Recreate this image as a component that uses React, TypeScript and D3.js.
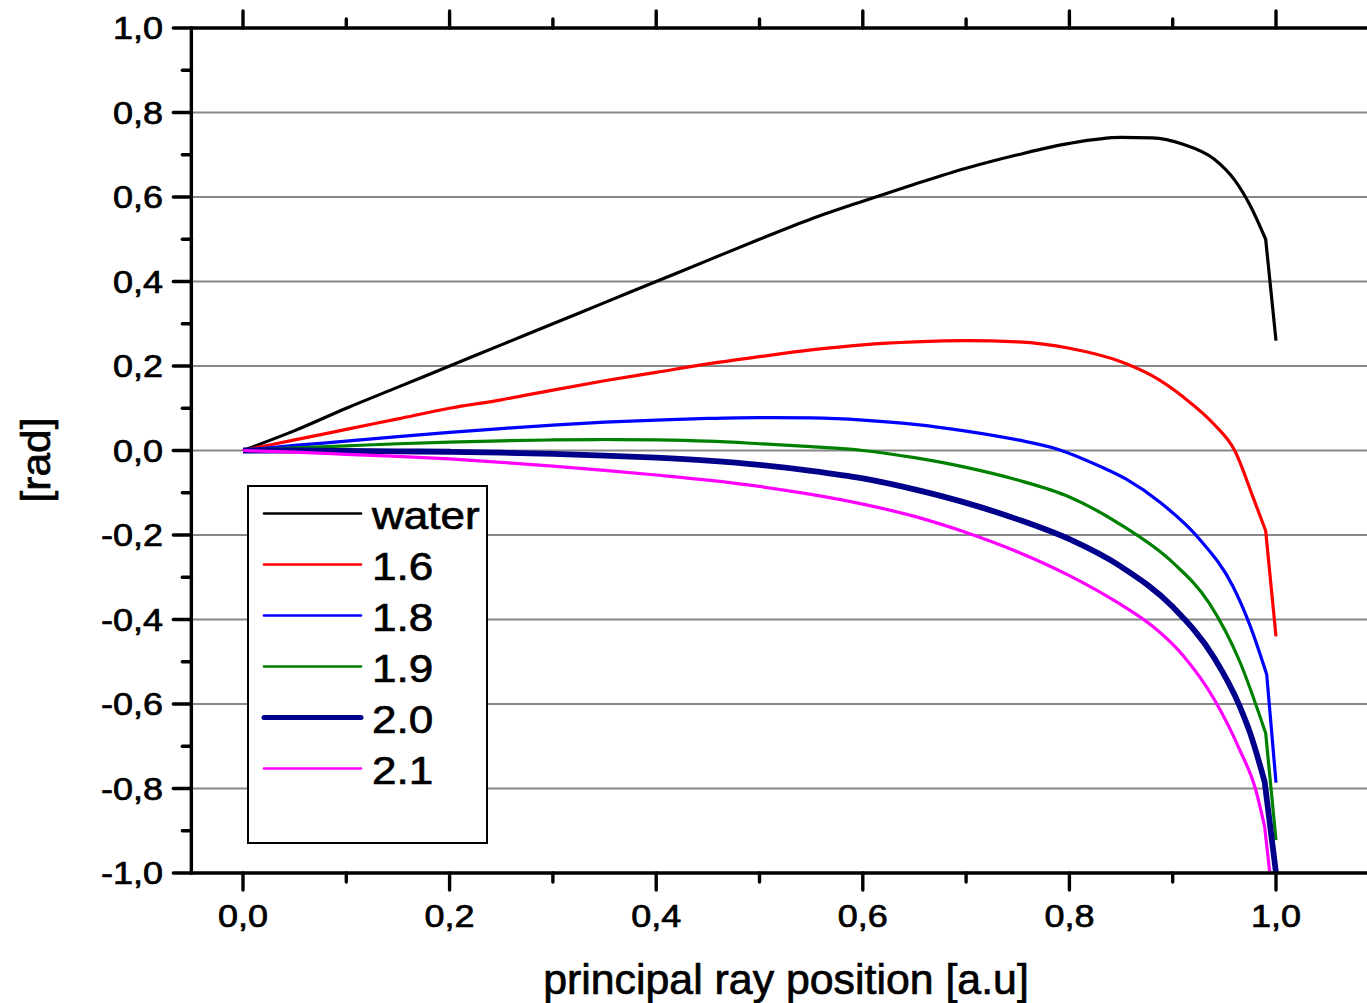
import {useEffect, useRef} from "react";
import * as d3 from "d3";

// x = principal ray position [a.u], y = angle [rad]
const waterX = [0, 0.05, 0.1, 0.15, 0.2, 0.25, 0.3, 0.35, 0.4, 0.45, 0.5, 0.55, 0.6, 0.65, 0.7, 0.75, 0.8, 0.85, 0.88, 0.91, 0.94, 0.96, 0.975, 0.99, 1.0];
const waterY = [0, 0.047, 0.1, 0.15, 0.2, 0.25, 0.3, 0.35, 0.4, 0.45, 0.5, 0.548, 0.59, 0.63, 0.668, 0.7, 0.727, 0.741, 0.74, 0.725, 0.69, 0.64, 0.58, 0.5, 0.26];

const n16X = [0, 0.05, 0.1, 0.15, 0.2, 0.25, 0.3, 0.35, 0.4, 0.45, 0.5, 0.55, 0.6, 0.65, 0.7, 0.75, 0.8, 0.85, 0.88, 0.91, 0.94, 0.96, 0.978, 0.99, 1.0];
const n16Y = [0, 0.025, 0.05, 0.075, 0.1, 0.12, 0.143, 0.165, 0.185, 0.205, 0.222, 0.238, 0.25, 0.257, 0.26, 0.257, 0.242, 0.21, 0.177, 0.127, 0.062, 0.0, -0.112, -0.19, -0.44];

const n18X = [0, 0.05, 0.1, 0.15, 0.2, 0.25, 0.3, 0.35, 0.4, 0.45, 0.5, 0.55, 0.6, 0.65, 0.7, 0.75, 0.79, 0.83, 0.855, 0.888, 0.926, 0.958, 0.975, 0.991, 1.0];
const n18Y = [0, 0.012, 0.022, 0.033, 0.043, 0.052, 0.06, 0.067, 0.072, 0.076, 0.078, 0.077, 0.072, 0.062, 0.046, 0.025, 0.002, -0.038, -0.068, -0.123, -0.21, -0.32, -0.415, -0.53, -0.786];

const n19X = [0, 0.05, 0.1, 0.15, 0.2, 0.25, 0.3, 0.35, 0.4, 0.45, 0.5, 0.55, 0.6, 0.65, 0.7, 0.75, 0.8, 0.85, 0.9, 0.935, 0.965, 0.99, 1.0];
const n19Y = [0, 0.006, 0.011, 0.016, 0.02, 0.023, 0.025, 0.026, 0.025, 0.022, 0.016, 0.009, 0.0, -0.017, -0.04, -0.07, -0.11, -0.176, -0.265, -0.36, -0.5, -0.669, -0.922];

const n20X = [0, 0.05, 0.1, 0.15, 0.2, 0.25, 0.3, 0.35, 0.4, 0.45, 0.5, 0.55, 0.6, 0.65, 0.7, 0.75, 0.8, 0.85, 0.9, 0.94, 0.965, 0.975, 0.989, 1.0];
const n20Y = [0, 0.0, -0.001, -0.002, -0.003, -0.005, -0.008, -0.012, -0.017, -0.024, -0.034, -0.048, -0.066, -0.092, -0.124, -0.163, -0.21, -0.275, -0.37, -0.49, -0.606, -0.669, -0.784, -1.0];

const n21X = [0, 0.05, 0.1, 0.15, 0.2, 0.25, 0.3, 0.35, 0.4, 0.45, 0.5, 0.55, 0.6, 0.65, 0.7, 0.75, 0.8, 0.85, 0.88, 0.91, 0.94, 0.965, 0.98, 0.989, 0.994];
const n21Y = [0, -0.004, -0.009, -0.014, -0.02, -0.028, -0.037, -0.047, -0.058, -0.07, -0.085, -0.104, -0.127, -0.156, -0.194, -0.24, -0.296, -0.365, -0.415, -0.485, -0.588, -0.709, -0.8, -0.89, -1.0];

const seriesNames = ["water", "1.6", "1.8", "1.9", "2.0", "2.1"];
const seriesColors = ["#000000", "#ff0000", "#0000ff", "#008000", "#00008b", "#ff00ff"];
const seriesWidths = [3.2, 3.2, 3.2, 3.2, 5.8, 3.2];
const seriesXs = [waterX, n16X, n18X, n19X, n20X, n21X];
const seriesYs = [waterY, n16Y, n18Y, n19Y, n20Y, n21Y];

const xMajor = [0, 0.2, 0.4, 0.6, 0.8, 1.0];
const xMinor = [0.1, 0.3, 0.5, 0.7, 0.9];
const yMajor = [-1, -0.8, -0.6, -0.4, -0.2, 0, 0.2, 0.4, 0.6, 0.8, 1.0];
const yMinor = [-0.9, -0.7, -0.5, -0.3, -0.1, 0.1, 0.3, 0.5, 0.7, 0.9];

const FONT = "'Liberation Sans', Arial, sans-serif";

export default function App() {
    const ref = useRef(null);

    useEffect(() => {
        const el = ref.current;
        if(!el) return;
        const svg = d3.select(el);
        svg.selectAll("*").remove();

        const width = 1367;
        const height = 1003;

        const x = d3.scaleLinear().domain([0, 1]).range([243, 1276]);
        const y = d3.scaleLinear().domain([-1, 1]).range([873, 28]);
        const left = x(-0.05);
        const top = y(1);
        const bottom = y(-1);

        svg.append("rect").attr("width", width).attr("height", height).attr("fill", "#fff");

        // gridlines
        svg.append("g")
            .selectAll("line")
            .data(yMajor.filter((v) => Math.abs(v) < 0.99))
            .join("line")
            .attr("x1", left)
            .attr("x2", width)
            .attr("y1", (d) => y(d))
            .attr("y2", (d) => y(d))
            .attr("stroke", "#888888")
            .attr("stroke-width", 2.2);

        // curves: smooth body, sharp last segment (as in the original)
        const smooth = d3.line().x((d) => x(d[0])).y((d) => y(d[1])).curve(d3.curveMonotoneX);
        seriesNames.forEach((name, i) => {
            const pts = seriesXs[i].map((v, j) => [v, seriesYs[i][j]]);
            const last = pts[pts.length - 1];
            const d = smooth(pts.slice(0, -1)) + `L${x(last[0])},${y(last[1])}`;
            svg.append("path")
                .attr("d", d)
                .attr("fill", "none")
                .attr("stroke", seriesColors[i])
                .attr("stroke-width", seriesWidths[i])
                .attr("stroke-linejoin", "round");
        });

        // axes frame
        const ax = svg.append("g").attr("stroke", "#000").attr("stroke-width", 3.4);
        ax.append("line").attr("x1", left).attr("x2", width).attr("y1", top).attr("y2", top);
        ax.append("line").attr("x1", left - 1.5).attr("x2", width).attr("y1", bottom).attr("y2", bottom);
        ax.append("line").attr("x1", left).attr("x2", left).attr("y1", top - 1.5).attr("y2", bottom + 1.5);

        const tick = (g, x1, y1, x2, y2) =>
            g.append("line").attr("x1", x1).attr("y1", y1).attr("x2", x2).attr("y2", y2).attr("stroke-linecap", "round");

        xMajor.forEach((v) => {
            tick(ax, x(v), bottom, x(v), bottom + 17);
            tick(ax, x(v), top, x(v), top - 17);
        });
        xMinor.forEach((v) => {
            tick(ax, x(v), bottom, x(v), bottom + 9);
            tick(ax, x(v), top, x(v), top - 9);
        });
        yMajor.forEach((v) => tick(ax, left, y(v), left - 18, y(v)));
        yMinor.forEach((v) => tick(ax, left, y(v), left - 9, y(v)));

        const fmt = (v) => d3.format(".1f")(v).replace("−", "-").replace(".", ",");
        const txt = (tx, ty, s, size, sx, anchor, rot = 0) =>
            svg.append("text")
                .attr("transform", `translate(${tx},${ty}) rotate(${rot}) scale(${sx},1)`)
                .attr("text-anchor", anchor)
                .attr("font-family", FONT)
                .attr("font-size", size)
                .attr("fill", "#000")
                .attr("stroke", "#000")
                .attr("stroke-width", 0.7)
                .text(s);

        yMajor.forEach((v) => txt(163, y(v) + 11, fmt(v), 30.5, 1.18, "end"));
        xMajor.forEach((v) => txt(x(v), 927, fmt(v), 30.5, 1.18, "middle"));

        txt(786, 994, "principal ray position [a.u]", 42, 1.02, "middle");
        txt(50, 460, "[rad]", 40, 1.06, "middle", -90);

        // legend
        const lg = svg.append("g");
        lg.append("rect")
            .attr("x", 248)
            .attr("y", 486)
            .attr("width", 239)
            .attr("height", 357)
            .attr("fill", "#fff")
            .attr("stroke", "#000")
            .attr("stroke-width", 2);
        seriesNames.forEach((name, i) => {
            const ly = 513.5 + i * 51;
            lg.append("line")
                .attr("x1", 264)
                .attr("x2", 361)
                .attr("y1", ly)
                .attr("y2", ly)
                .attr("stroke", seriesColors[i])
                .attr("stroke-width", i === 4 ? 5 : 2.6)
                .attr("stroke-linecap", "round");
            txt(372, ly + 15, name, 39, 1.13, "start");
        });
    }, []);

    return (
        <svg
            ref={ref}
            width={1367}
            height={1003}
            style={{position: "absolute", left: 0, top: 0, display: "block"}}
        />
    );
}
